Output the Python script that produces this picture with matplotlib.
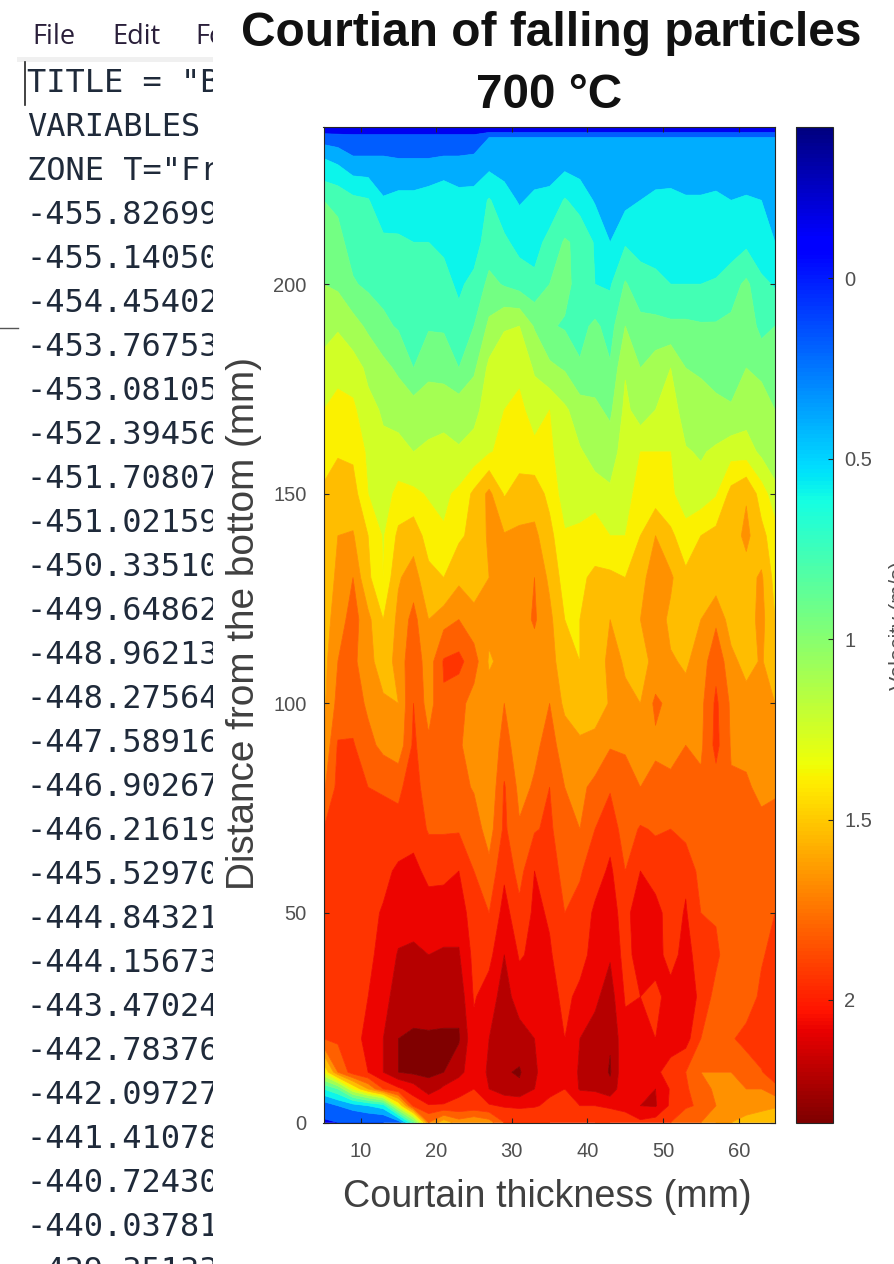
import numpy as np
import matplotlib
matplotlib.use("Agg")
import matplotlib.pyplot as plt
from matplotlib.cm import ScalarMappable
from matplotlib.colors import Normalize
from matplotlib.lines import Line2D
from matplotlib.patches import Rectangle

W, H = 894, 1264
TITLE_LINES = ["Courtian of falling particles", "700 °C"]
XLABEL = "Courtain thickness (mm)"
YLABEL = "Distance from the bottom (mm)"
CBLABEL = "Velocity (m/s)"
XTICKS = [10, 20, 30, 40, 50, 60]
YTICKS = [0, 50, 100, 150, 200]
CTICKS = [0, 0.5, 1, 1.5, 2]
MENU = [("File", 32), ("Edit", 112), ("Fo", 195)]
NOTE_HEAD = ['TITLE = "B', 'VARIABLES', 'ZONE T="Fr']
NOTE_NUMS = ["-455.82699", "-455.14050", "-454.45402", "-453.76753", "-453.08105", "-452.39456",
             "-451.70807", "-451.02159", "-450.33510", "-449.64862", "-448.96213", "-448.27564",
             "-447.58916", "-446.90267", "-446.21619", "-445.52970", "-444.84321", "-444.15673",
             "-443.47024", "-442.78376", "-442.09727", "-441.41078", "-440.72430", "-440.03781",
             "-439.35133"]

# velocity at the upper bound of each filled band, m/s
LEVELS = [-0.337, 0.049, 0.298, 0.491, 0.684, 0.850, 1.015, 1.181, 1.319, 1.457,
          1.609, 1.733, 1.871, 2.009, 2.147, 2.271, 2.395]
X_MM = [5.1, 7, 9, 11, 13, 15, 17, 19, 21, 23, 25, 27, 29, 31, 33, 35, 37, 39, 41, 43, 45, 47, 49,
        51, 53, 55, 57, 59, 61, 63, 64.8]
Y_MM = [0, 4, 8, 12, 20, 30, 40, 50, 60, 70, 80, 90, 100, 110, 120, 130, 140, 150, 160, 170, 180,
        190, 200, 210, 220, 230, 235, 237.5]

# values, in band units (position among LEVELS), one list per height
r000 = [0.9,1,1,1,1,1.5,5,11,9.5,10.5,10,10.5,12,12,12,12,12.5,12.2,12,12,12.5,12.8,12.5,12,11.5,11,10,10,9.5,9.2,9]
r004 = [1.5,2,2.5,3,3.5,8,12.3,12.9,12.9,12.8,12.7,12.9,13.1,13.2,13.1,12.8,12.9,13,13,13.2,13.3,14,14.1,12.8,12.1,11.9,11,11,10.8,10.5,10.2]
r008 = [4,5,8,10,12,12.8,13.5,14.6,13.8,13.2,13,14,14.6,14.8,14,13.2,13,14.1,14.2,14.7,13.2,13.8,14,12.9,12.2,11.2,10.9,10.8,11,11,11.5]
r012 = [8,11,12.5,13,14,15,15.2,15.2,15,14.4,13.3,14.2,14.9,15.1,14.2,13.3,13,14.2,14.3,15.1,13.2,13.2,13.2,12.6,12,11,11,11,11.5,11.9,12.9]
r020 = [12,12.2,12.5,13.4,14,15,15.1,15.1,15.1,15.1,13.3,14,15,14.5,14,13.4,13,14,14.4,14.9,13.3,13.1,13,13.5,13.4,12,11.5,11.9,12.3,12.9,13]
r030 = [12.1,12.3,12.7,13,13.5,14.7,14.7,14.6,14.7,14.7,12.9,13.5,14.5,13.5,13.4,13.3,12.8,13.2,13.8,14.5,12.9,13,12.8,13.3,14,12.6,11.7,11.3,11.5,12.2,12.6]
r040 = [12.2,12.5,12.6,12.8,13.3,14.1,14.2,14,14.1,14.1,12.7,12.7,14,12.9,13.2,13.1,12.5,12.7,13.3,13.9,12.6,13.5,13.3,12.7,13.3,12.6,12.2,11.4,11.4,11.9,12.3]
r050 = [12.2,12.5,12.6,12.7,13.1,13.5,13.6,13.5,13.6,13.6,12.4,12,13.4,12.3,13.2,12.9,12,12.3,13.2,13.5,12.5,14,13.4,12.5,13.1,12,11.9,11.4,11.4,11.7,12]
r060 = [12.1,12.4,12.4,12.6,12.7,13.2,13.3,12.7,12.7,13,12,11.3,12.8,11.6,13,12.6,11.6,11.9,12.5,13.2,12,13,12.5,12.2,12.8,11.6,11.3,11.2,11.3,11.9,11.4]
r070 = [12,12.6,12.5,12.4,12.4,12.3,12.6,11.9,11.9,11.9,11.5,10.5,12.2,11.1,11.9,12.2,11.3,11,12,12.6,11.5,12.1,11.9,12,11.6,11.4,11.3,11.3,11.1,11.2,11.7]
r080 = [10.8,12.3,12.2,12,11.9,11.8,12.5,11.4,11.5,11.3,10.9,10,12.1,10.7,11.1,12,11,10.8,11.2,11.9,11.3,11,11.3,11.2,11.3,11.2,11.6,11.1,11.1,10.8,10.7]
r090 = [10,12.1,12.1,11.3,10.7,10.3,12.2,11.2,11.5,11.1,10.6,10.1,11.4,10.4,10.8,11.3,10.6,10.3,10.4,10.9,10.9,10.5,10.8,10.7,11,10.8,12.3,10.9,10.8,10.4,10.1]
r100 = [9.8,11.3,11.5,10.8,10.2,10,12,10.5,11.9,11.3,10.6,10.4,11,10.2,10.3,11,9.8,9.2,9.5,10.1,10.2,10,11.2,10.7,10.3,10.7,12.2,10.8,10.4,10.2,10]
r110 = [9.7,11,11.2,10.4,9.5,10.4,11.7,10.4,12.1,12.3,11.4,9.9,10.3,10.6,10.6,10.5,9.4,9,9.3,10.4,9.9,9.8,10.2,10.1,9.9,10.4,11.7,10.3,9.7,10.1,9.5]
r120 = [9.6,10.5,11.4,10.3,9,10.3,11.3,10,10.6,11,10.4,10.3,10.6,10.6,11.1,10.3,9,9,9.6,10,9.7,10,10.6,9.8,9.7,10,10.8,9.6,9.5,10.4,9]
r130 = [9.5,10.2,11,9.2,8,9.9,10.5,9.3,9,9.8,9.5,10,10.2,10.5,11,9.8,8.5,8.9,9.1,9.2,9,9.5,11,10.2,9.2,9.4,9.5,9.5,9.6,10.2,8.6]
r140 = [9.4,10,10.1,9,7.9,9.2,9.6,8.5,8.1,8.8,9.3,10.2,10.1,10.2,10.3,9.3,8.1,8.3,8.7,8,8,9,10,9.2,8.4,9,9.3,9.5,10.3,9.3,8.4]
r150 = [9.1,9.5,9.4,8,7.5,8.3,8.2,7.9,7.8,8.2,9.2,10.3,8.9,9.5,9.5,8.7,7.5,7.3,7.4,7.2,7.8,8.2,8.4,8.2,7.4,7.4,7.9,9.3,9.9,8.5,7.4]
r160 = [8.7,8.9,8.8,7.8,7.2,7.3,7,7.2,7.2,7.1,7.3,7.9,8.3,8.4,8.3,8.2,7.4,7.1,6.7,6.5,7.6,8,8,8,7.1,6.9,7.2,7.6,7.5,6.8,6.3]
r170 = [8,8.3,8.2,7.3,6.9,6.7,6.5,6.6,6.8,6.6,6.8,7.4,8,8.3,7.5,8,7.2,6.5,6.2,5.8,7.3,6.5,7,7.6,6.5,6.3,6.2,6.2,6.6,6.2,6]
r180 = [7.4,7.7,7.5,6.8,6.3,5.8,5,5.7,5.5,5,5.8,7.3,7.8,7.7,6.9,6.2,5.9,5.1,5.5,5.1,6.9,6,6.5,7,6,5.9,5.7,5.1,6,5.9,5.2]
r190 = [6.6,6.9,6.4,5.8,5.2,4.9,4.7,4.9,4.9,4.2,5,6.2,6.9,7,5.9,5.1,4.9,4.7,5.2,4.6,6,5.3,5.3,5.2,5.2,5.1,5.1,5.2,5.8,4.6,5]
r200 = [6,5.8,5.1,4.8,4.7,4.5,4.4,4.3,4.2,3.9,4.2,5.3,4.9,4.6,4.3,5,5.3,4.6,4,3.9,5.1,4.4,4.2,4,4,4,4.1,4.6,5.2,4.3,3.9]
r210 = [5.6,5.3,4.6,4.4,4.3,4.2,4,4,3.9,3.5,3.7,4.4,4.2,3.7,3.6,4.4,5.1,4.8,3.9,3,3.9,3.7,3.7,3.5,3,3.3,3.5,3.5,3.8,3.2,3]
r220 = [5,4.8,4.3,4.1,3.1,3.3,3.3,3.5,3.8,3.4,3.4,4.1,3.4,2.9,3.2,3.3,4.1,3.6,2.9,2.8,2.7,3,3.2,3.2,3.1,3.1,3.2,3,3.1,3,3]
r230 = [3,2.7,2.1,2.1,2.1,2,2,2,2.1,2.1,2.2,2.5,2.5,2.4,2.4,2.4,2.5,2.4,2.3,2.3,2.2,2.3,2.4,2.5,2.3,2.3,2.3,2.3,2.3,2.3,2.3]
r235 = [1.6,1.5,1.4,1.4,1.4,1.4,1.4,1.4,1.4,1.4,1.4,2,2,2,2,2,2,2,2,2,2,2,2,2,2,2,2,2,2,2,2]
r237 = [0.3,0.3,0.3,0.3,0.3,0.3,0.3,0.3,0.3,0.3,0.3,0.3,0.3,0.3,0.3,0.3,0.3,0.3,0.3,0.3,0.3,0.3,0.3,0.3,0.3,0.3,0.3,0.3,0.3,0.3,0.3]
ROWS = [r000, r004, r008, r012, r020, r030, r040, r050, r060, r070, r080, r090, r100, r110, r120,
        r130, r140, r150, r160, r170, r180, r190, r200, r210, r220, r230, r235, r237]


def box(x0, y0, x1, y1):
    """Pixel box (top-left origin) to figure fraction rectangle."""
    return [x0 / W, 1 - y1 / H, (x1 - x0) / W, (y1 - y0) / H]


fig = plt.figure(figsize=(W / 100, H / 100), dpi=100, facecolor="white")

# left notepad panel, clipped at its right edge
note = fig.add_axes(box(0, 0, 213, H))
note.set_xlim(0, 213)
note.set_ylim(H, 0)
note.axis("off")
for label, x in MENU:
    note.text(x, 37, label, family="Open Sans", fontsize=19.5, color="#2a1f3a",
              va="center", ha="left", clip_on=True)
note.add_patch(Rectangle((17, 57), 196, 5, color="#f0f0f0", lw=0))
note.add_line(Line2D([25, 25], [62, 105], color="#222222", lw=1.2))
note.add_line(Line2D([0, 18], [328, 328], color="#555555", lw=1.0))
for i, s in enumerate(NOTE_HEAD + NOTE_NUMS):
    note.text(27, 83 + 44 * i, s, family="DejaVu Sans Mono", fontsize=23, color="#1f2a3a",
              va="center", ha="left", clip_on=True)

# contour panel
ax = fig.add_axes(box(323.5, 127, 775, 1122.5))
Z = np.interp(np.array(ROWS, dtype=float), np.arange(len(LEVELS)), LEVELS)
norm = Normalize(-0.42, 2.34)
cs = ax.contourf(X_MM, Y_MM, Z, levels=LEVELS, cmap="jet", norm=norm, antialiased=True)
cs.set_edgecolor("face")
cs.set_linewidth(0.5)
ax.set_xlim(5.1, 64.8)
ax.set_ylim(0, 237.5)
ax.set_xticks(XTICKS)
ax.set_yticks(YTICKS)
ax.tick_params(direction="in", top=True, right=True, length=3.5, width=0.8, color="#262626",
               labelsize=14.5, labelcolor="#505050", labelfontfamily="Liberation Sans")
ax.tick_params(axis="x", pad=14)
ax.tick_params(axis="y", pad=12)
for s in ax.spines.values():
    s.set_color("#262626")
    s.set_linewidth(0.8)
fig.text(547.5 / W, 1 - 1197 / H, XLABEL, family="Liberation Sans", fontsize=27.1, color="#404040",
         ha="center", va="center")
fig.text(244 / W, 1 - 623 / H, YLABEL, family="Liberation Sans", fontsize=27.9, color="#404040",
         rotation=90, ha="center", va="center")

# title
fig.text(551 / W, 1 - 33 / H, TITLE_LINES[0], family="Liberation Sans", weight="bold", fontsize=34.5,
         color="#111111", ha="center", va="center")
fig.text(549 / W, 1 - 96 / H, TITLE_LINES[1], family="Liberation Sans", weight="bold", fontsize=34.3,
         color="#111111", ha="center", va="center")

# colour bar
cax = fig.add_axes(box(796, 127, 833, 1122.5))
cb = fig.colorbar(ScalarMappable(norm=norm, cmap="jet"), cax=cax)
cax.invert_yaxis()
cb.set_ticks(CTICKS)
cb.set_ticklabels(["0", "0.5", "1", "1.5", "2"])
cax.tick_params(direction="in", length=3.5, width=0.8, color="#262626", labelsize=14.5, labelcolor="#505050",
                labelfontfamily="Liberation Sans", pad=8)
cb.outline.set_edgecolor("#262626")
cb.outline.set_linewidth(0.8)
fig.text(899 / W, 1 - 626 / H, CBLABEL, family="Liberation Sans", fontsize=15.5, color="#505050",
         rotation=90, ha="center", va="center")

fig.savefig("out.png", dpi=100, facecolor="white")
